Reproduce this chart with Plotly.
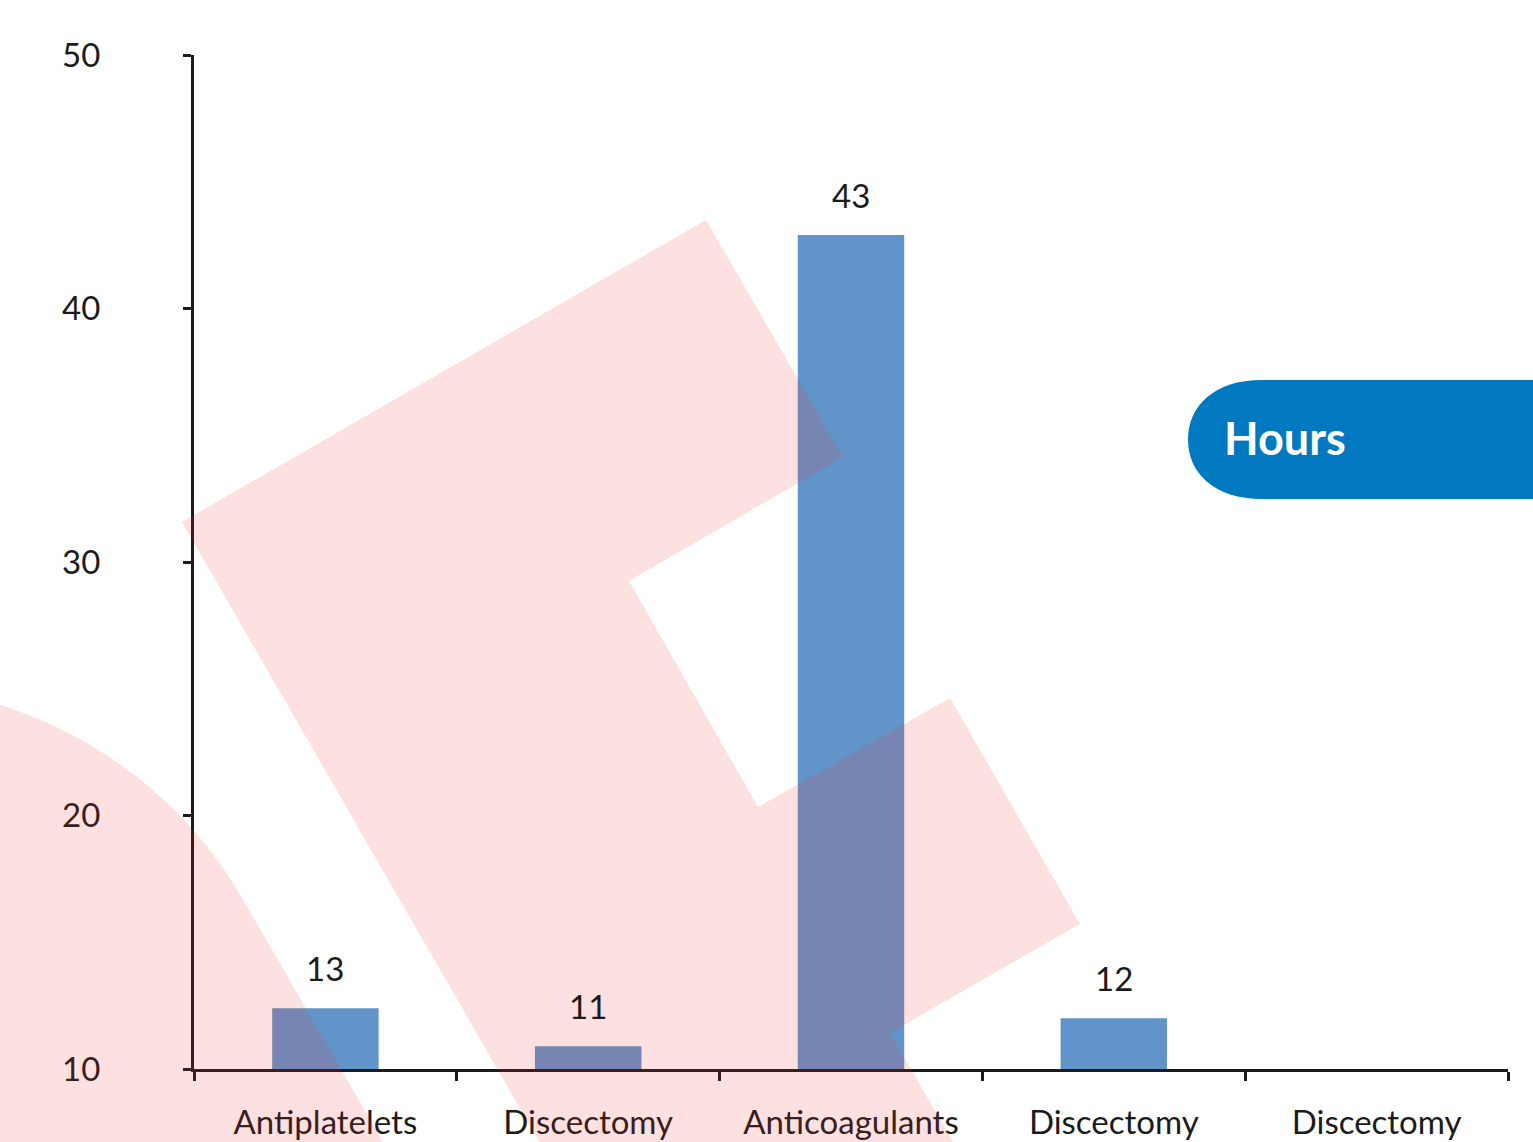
import math
import plotly.graph_objects as go

# ---- data ----
categories = ["Antiplatelets", "Discectomy", "Anticoagulants", "Discectomy", "Discectomy"]
hours = [12.4, 10.9, 42.9, 12.0, None]
bar_labels = ["13", "11", "43", "12", ""]
y_ticks = [10, 20, 30, 40, 50]

W, H = 1533, 1142
ML, MR, MT, MB = 194, 25, 55, 73
PW, PH = W - ML - MR, H - MT - MB

FONT = "Lato"
TXT = "#1b1b1b"
AX = "#1b1b1b"
BAR = "#6195C9"
PINK = "rgba(240,48,48,0.15)"
BLUE = "#0079C1"


def px(x, y):
    return ((x - ML) / PW, (H - MB - y) / PH)


def path_from(points):
    s = ""
    for i, (x, y) in enumerate(points):
        u, v = px(x, y)
        s += ("M" if i == 0 else "L") + f"{u:.5f},{v:.5f} "
    return s + "Z"


xpos = list(range(len(categories)))

fig = go.Figure()
fig.add_trace(go.Bar(x=xpos, y=hours, marker=dict(color=BAR, line=dict(width=0)),
                     hoverinfo="skip"))

# value labels above bars
for i, (v, t) in enumerate(zip(hours, bar_labels)):
    if v is None or not t:
        continue
    fig.add_annotation(x=i, y=v, text=t, showarrow=False, yanchor="middle",
                       yshift=40, font=dict(family=FONT, size=33, color=TXT))

# decorative pink shapes (background watermark)
big = [(182, 522), (706, 220), (843, 457), (629, 581), (758, 807), (950, 698),
       (1080, 924), (890, 1033), (977, 1183), (563, 1183)]
cx, cy, r = -127.3, 1113.0, 427.4
arc = []
for k in range(0, 71):
    th = math.radians(-100 + k)
    arc.append((cx + r * math.cos(th), cy + r * math.sin(th)))
quarter = arc + [(417.6, 1202), (-250, 1202), (-250, arc[0][1])]

shapes = [
    dict(type="path", xref="paper", yref="paper", path=path_from(big),
         fillcolor=PINK, line=dict(width=0), layer="above"),
    dict(type="path", xref="paper", yref="paper", path=path_from(quarter),
         fillcolor=PINK, line=dict(width=0), layer="above"),
]

# "Hours" tab
def bez_path(cmds):
    s = ""
    for c, pts in cmds:
        s += c
        s += " ".join(f"{px(x, y)[0]:.5f},{px(x, y)[1]:.5f}" for x, y in pts) + " "
    return s + "Z"

tab = bez_path([
    ("M", [(1540, 380)]),
    ("L", [(1262, 380)]),
    ("C", [(1214, 380), (1188, 406), (1188, 439.5)]),
    ("C", [(1188, 473), (1214, 499), (1262, 499)]),
    ("L", [(1540, 499)]),
])
shapes.append(dict(type="path", xref="paper", yref="paper", path=tab,
                   fillcolor=BLUE, line=dict(width=0), layer="above"))

hx, hy = px(1222, 438)
fig.add_annotation(xref="paper", yref="paper", x=hx, y=hy, text="Hours",
                   showarrow=False, xanchor="left", yanchor="middle",
                   font=dict(family=FONT, size=45, color="white", weight="bold"))

fig.update_layout(
    width=W, height=H,
    margin=dict(l=ML, r=MR, t=MT, b=MB, autoexpand=False),
    paper_bgcolor="white", plot_bgcolor="white",
    showlegend=False, bargap=0.595,
    shapes=shapes,
    font=dict(family=FONT, color=TXT),
)
fig.update_xaxes(
    range=[-0.5, len(categories) - 0.5],
    tickmode="array", tickvals=xpos, ticktext=categories, ticks="",
    showline=True, linecolor=AX, linewidth=3,
    showgrid=False, zeroline=False,
    tickfont=dict(family=FONT, size=33, color=TXT),
    ticklabelstandoff=22,
    minor=dict(tickmode="array", tickvals=[i - 0.5 for i in range(len(categories) + 1)],
               ticks="outside", ticklen=9, tickwidth=3, tickcolor=AX, showgrid=False),
)
fig.update_yaxes(
    range=[y_ticks[0], y_ticks[-1]],
    tickmode="array", tickvals=y_ticks, ticks="outside", ticklen=8, tickwidth=3,
    tickcolor=AX, showline=True, linecolor=AX, linewidth=3,
    showgrid=False, zeroline=False,
    tickfont=dict(family=FONT, size=33, color=TXT),
    ticklabelstandoff=76,
)

fig.write_html("out.html")
